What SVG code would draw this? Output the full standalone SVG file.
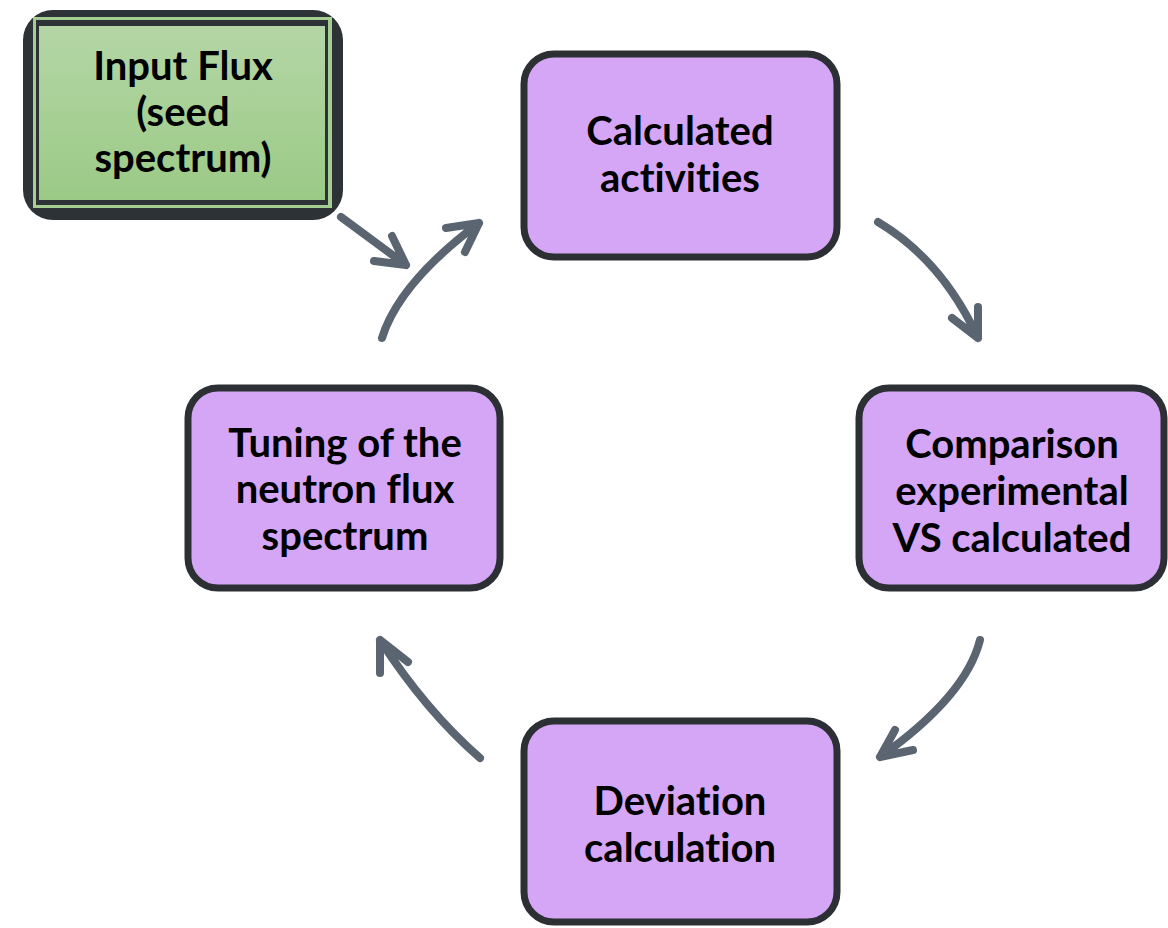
<svg xmlns="http://www.w3.org/2000/svg" width="1168" height="928" viewBox="0 0 1168 928">
<defs>
<linearGradient id="green" x1="0" y1="0" x2="0" y2="1">
<stop offset="0" stop-color="#b4d6a6"/>
<stop offset="1" stop-color="#9bca86"/>
</linearGradient>
</defs>
<style>
.box{fill:#d4a6f5;stroke:#2c3034;stroke-width:7}
.lbl{font-family:Lato,"Liberation Sans",sans-serif;font-weight:bold;font-size:40px;fill:#000;text-anchor:middle;font-variant-ligatures:none;font-feature-settings:"liga" 0,"clig" 0}
.arr{fill:none;stroke:#5a6571;stroke-width:8;stroke-linecap:round;stroke-linejoin:round}
</style>
<rect width="1168" height="928" fill="#fff"/>
<g id="input">
<rect x="23" y="10" width="320" height="210" rx="30" fill="#2d3236"/>
<rect x="33" y="17" width="299" height="191" fill="#a5cf92"/>
<rect x="36" y="20" width="292" height="185" fill="#2d3236"/>
<rect x="39" y="26" width="286" height="174" fill="url(#green)"/>
<text class="lbl" x="183" y="80">Input Flux</text>
<text class="lbl" x="183" y="126">(seed</text>
<text class="lbl" x="183" y="172">spectrum)</text>
</g>
<g id="calc">
<rect class="box" x="524" y="54" width="313" height="203" rx="30"/>
<text class="lbl" x="680" y="145">Calculated</text>
<text class="lbl" x="680" y="192">activities</text>
</g>
<g id="compare">
<rect class="box" x="859" y="388" width="305" height="200" rx="30"/>
<text class="lbl" x="1012" y="458">Comparison</text>
<text class="lbl" x="1012" y="505">experimental</text>
<text class="lbl" x="1012" y="552">VS calculated</text>
</g>
<g id="deviation">
<rect class="box" x="524" y="721" width="313" height="201" rx="30"/>
<text class="lbl" x="680" y="815">Deviation</text>
<text class="lbl" x="680" y="862">calculation</text>
</g>
<g id="tuning">
<rect class="box" x="188" y="388" width="312" height="200" rx="30"/>
<text class="lbl" x="345" y="457">Tuning of the</text>
<text class="lbl" x="345" y="503">neutron flux</text>
<text class="lbl" x="345" y="550">spectrum</text>
</g>
<g id="connectors">
<path class="arr" d="M341 217 L406 265 M392 236 L406 265 L374 261"/>
<path class="arr" d="M382 338 Q399 283 479 223 M446 228 L479 223 L465 252"/>
<path class="arr" d="M878 222 Q942 260 978 338 M978 307 L978 338 L952 318"/>
<path class="arr" d="M980 640 Q966 696 880 757 M895 730 L880 757 L913 750"/>
<path class="arr" d="M480 758 Q426 711 380 640 M380 673 L380 640 L408 662"/>
</g>
</svg>
